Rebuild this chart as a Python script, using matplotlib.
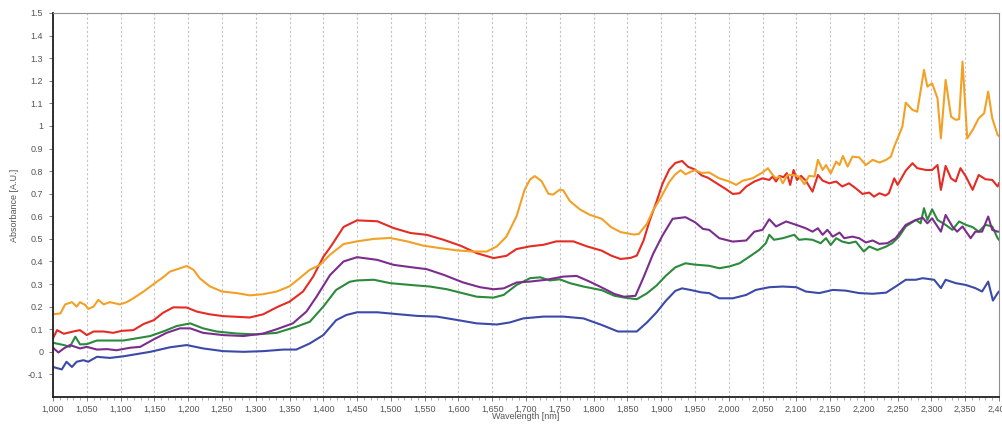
import matplotlib
matplotlib.use("Agg")
import matplotlib.pyplot as plt
from matplotlib.ticker import FixedLocator, MultipleLocator, FuncFormatter

# ---- spectra: wavelength [nm] and absorbance [A.U.] ----
wl_orange = [1000, 1011, 1018, 1028, 1035, 1040, 1048, 1052, 1060, 1067, 1075, 1084,
             1099, 1109, 1119, 1134, 1149, 1163, 1173, 1188, 1198, 1208, 1217, 1232,
             1250, 1272, 1291, 1311, 1331, 1350, 1365, 1380, 1395, 1410, 1430, 1450,
             1475, 1499, 1524, 1548, 1573, 1598, 1622, 1642, 1657, 1671, 1686, 1698,
             1706, 1713, 1723, 1733, 1740, 1750, 1755, 1765, 1780, 1794, 1812, 1826,
             1840, 1860, 1867, 1879, 1888, 1900, 1912, 1921, 1929, 1936, 1943, 1950,
             1960, 1971, 1986, 2001, 2011, 2021, 2035, 2050, 2058, 2065, 2070, 2075,
             2080, 2087, 2095, 2104, 2112, 2119, 2127, 2132, 2139, 2144, 2151, 2159,
             2164, 2169, 2176, 2183, 2193, 2203, 2213, 2223, 2233, 2240, 2245, 2250,
             2257, 2262, 2272, 2279, 2289, 2294, 2301, 2309, 2314, 2321, 2329, 2336,
             2341, 2346, 2353, 2361, 2370, 2378, 2384, 2390, 2398, 2400]
ab_orange = [0.166, 0.17, 0.21, 0.22, 0.20, 0.22, 0.207, 0.19, 0.20, 0.23, 0.21, 0.22,
             0.21, 0.22, 0.237, 0.267, 0.30, 0.33, 0.355, 0.37, 0.38, 0.363, 0.326, 0.29,
             0.267, 0.26, 0.25, 0.255, 0.267, 0.29, 0.326, 0.363, 0.385, 0.43, 0.477, 0.489,
             0.50, 0.504, 0.489, 0.47, 0.459, 0.449, 0.444, 0.444, 0.467, 0.51, 0.60, 0.718,
             0.763, 0.778, 0.756, 0.70, 0.696, 0.718, 0.715, 0.667, 0.63, 0.607, 0.589, 0.552,
             0.53, 0.519, 0.522, 0.567, 0.626, 0.685, 0.752, 0.786, 0.804, 0.786, 0.796, 0.804,
             0.792, 0.794, 0.768, 0.754, 0.739, 0.758, 0.768, 0.794, 0.813, 0.783, 0.768, 0.776,
             0.746, 0.783, 0.783, 0.776, 0.742, 0.779, 0.776, 0.85, 0.805, 0.827, 0.79, 0.842,
             0.827, 0.867, 0.82, 0.864, 0.861, 0.827, 0.85, 0.838, 0.85, 0.864, 0.909, 0.945,
             0.997, 1.103, 1.071, 1.063, 1.248, 1.174, 1.189, 1.122, 0.945, 1.204, 1.041, 1.027,
             1.03, 1.285, 0.945, 0.982, 1.034, 1.056, 1.152, 1.034, 0.96, 0.955]

wl_red = [1000, 1006, 1016, 1030, 1040, 1050, 1060, 1075, 1089, 1102, 1119, 1134,
          1149, 1163, 1178, 1198, 1213, 1232, 1252, 1272, 1291, 1311, 1331, 1350,
          1370, 1385, 1400, 1412, 1430, 1450, 1480, 1504, 1529, 1553, 1578, 1603,
          1627, 1652, 1671, 1686, 1706, 1726, 1745, 1770, 1790, 1812, 1826, 1840,
          1855, 1864, 1874, 1883, 1893, 1902, 1912, 1921, 1931, 1940, 1950, 1960,
          1969, 1996, 2006, 2016, 2026, 2038, 2050, 2060, 2065, 2070, 2075, 2081,
          2086, 2091, 2096, 2101, 2107, 2114, 2124, 2132, 2139, 2149, 2159, 2168,
          2178, 2188, 2198, 2208, 2215, 2223, 2232, 2237, 2245, 2250, 2257, 2262,
          2272, 2279, 2292, 2301, 2309, 2314, 2321, 2329, 2336, 2343, 2351, 2361,
          2370, 2380, 2390, 2398, 2400]
ab_red = [0.06, 0.096, 0.08, 0.09, 0.096, 0.074, 0.09, 0.09, 0.084, 0.093, 0.096, 0.123,
          0.14, 0.173, 0.197, 0.196, 0.178, 0.166, 0.158, 0.155, 0.152, 0.166, 0.197, 0.222,
          0.267, 0.333, 0.42, 0.47, 0.553, 0.582, 0.578, 0.548, 0.526, 0.518, 0.496, 0.47,
          0.437, 0.415, 0.425, 0.455, 0.467, 0.474, 0.489, 0.489, 0.467, 0.448, 0.426, 0.411,
          0.416, 0.426, 0.493, 0.581, 0.663, 0.744, 0.807, 0.836, 0.845, 0.819, 0.807, 0.781,
          0.771, 0.72, 0.699, 0.702, 0.732, 0.754, 0.768, 0.761, 0.776, 0.754, 0.779, 0.773,
          0.791, 0.739, 0.805, 0.761, 0.779, 0.758, 0.709, 0.783, 0.758, 0.746, 0.754, 0.732,
          0.746, 0.724, 0.699, 0.705, 0.687, 0.702, 0.692, 0.702, 0.768, 0.739, 0.776, 0.802,
          0.835, 0.813, 0.805, 0.805, 0.827, 0.717, 0.823, 0.768, 0.754, 0.813, 0.776, 0.717,
          0.783, 0.764, 0.761, 0.732, 0.746]

wl_purple = [1000, 1008, 1016, 1025, 1040, 1050, 1065, 1080, 1094, 1114, 1129, 1149,
             1168, 1188, 1203, 1222, 1252, 1282, 1311, 1331, 1355, 1375, 1390, 1410,
             1430, 1450, 1480, 1504, 1529, 1553, 1578, 1607, 1632, 1652, 1667, 1686,
             1706, 1730, 1755, 1775, 1794, 1812, 1831, 1845, 1862, 1874, 1888, 1902,
             1917, 1936, 1950, 1962, 1971, 1986, 2006, 2026, 2038, 2050, 2060, 2070,
             2085, 2100, 2114, 2124, 2132, 2139, 2146, 2154, 2164, 2171, 2183, 2193,
             2203, 2213, 2223, 2235, 2247, 2262, 2277, 2287, 2294, 2301, 2314, 2321,
             2331, 2338, 2346, 2358, 2365, 2375, 2384, 2390, 2398, 2400]
ab_purple = [0.018, -0.003, 0.015, 0.03, 0.015, 0.022, 0.01, 0.012, 0.007, 0.018, 0.022, 0.055,
             0.084, 0.104, 0.104, 0.084, 0.074, 0.07, 0.081, 0.10, 0.126, 0.178, 0.244, 0.34,
             0.40, 0.419, 0.407, 0.385, 0.375, 0.366, 0.341, 0.307, 0.286, 0.277, 0.281, 0.307,
             0.311, 0.319, 0.333, 0.336, 0.311, 0.285, 0.256, 0.244, 0.248, 0.33, 0.433, 0.515,
             0.589, 0.596, 0.574, 0.544, 0.54, 0.503, 0.488, 0.493, 0.532, 0.54, 0.587, 0.555,
             0.577, 0.562, 0.547, 0.532, 0.547, 0.518, 0.54, 0.51, 0.528, 0.503, 0.51, 0.503,
             0.484, 0.493, 0.478, 0.481, 0.503, 0.562, 0.584, 0.594, 0.569, 0.591, 0.532, 0.606,
             0.555, 0.532, 0.555, 0.503, 0.532, 0.532, 0.599, 0.54, 0.532, 0.532]

wl_green = [1000, 1016, 1025, 1033, 1040, 1050, 1065, 1084, 1104, 1124, 1144, 1163,
            1183, 1203, 1222, 1242, 1272, 1301, 1331, 1360, 1380, 1400, 1419, 1439,
            1450, 1475, 1499, 1529, 1558, 1583, 1607, 1627, 1652, 1667, 1686, 1706,
            1721, 1735, 1750, 1765, 1785, 1812, 1831, 1850, 1864, 1879, 1893, 1907,
            1921, 1936, 1950, 1971, 1986, 2001, 2016, 2031, 2045, 2055, 2060, 2067,
            2080, 2097, 2104, 2114, 2124, 2136, 2144, 2151, 2159, 2168, 2178, 2188,
            2200, 2208, 2220, 2233, 2242, 2252, 2262, 2277, 2284, 2289, 2294, 2301,
            2309, 2321, 2331, 2341, 2351, 2361, 2370, 2380, 2390, 2398, 2400]
ab_green = [0.04, 0.03, 0.022, 0.067, 0.033, 0.034, 0.05, 0.05, 0.05, 0.06, 0.07, 0.09,
            0.114, 0.126, 0.104, 0.09, 0.081, 0.077, 0.084, 0.111, 0.133, 0.20, 0.274, 0.31,
            0.316, 0.319, 0.304, 0.296, 0.289, 0.277, 0.259, 0.244, 0.24, 0.252, 0.296, 0.326,
            0.33, 0.316, 0.321, 0.304, 0.289, 0.273, 0.248, 0.238, 0.233, 0.259, 0.293, 0.337,
            0.374, 0.392, 0.386, 0.381, 0.37, 0.378, 0.392, 0.422, 0.451, 0.481, 0.518, 0.496,
            0.503, 0.518, 0.496, 0.499, 0.496, 0.481, 0.503, 0.473, 0.503, 0.488, 0.481, 0.488,
            0.444, 0.466, 0.451, 0.466, 0.481, 0.51, 0.555, 0.584, 0.569, 0.636, 0.584, 0.631,
            0.584, 0.562, 0.54, 0.577, 0.562, 0.552, 0.532, 0.562, 0.555, 0.503, 0.496]

wl_blue = [1000, 1013, 1020, 1028, 1035, 1045, 1052, 1065, 1084, 1104, 1124, 1144,
           1173, 1198, 1222, 1252, 1282, 1311, 1341, 1360, 1380, 1400, 1419, 1434,
           1450, 1480, 1509, 1539, 1568, 1598, 1627, 1657, 1676, 1696, 1726, 1755,
           1785, 1812, 1836, 1864, 1879, 1893, 1907, 1921, 1931, 1945, 1960, 1971,
           1986, 2006, 2026, 2040, 2060, 2080, 2100, 2114, 2134, 2154, 2173, 2193,
           2213, 2233, 2247, 2262, 2277, 2287, 2297, 2304, 2314, 2321, 2336, 2351,
           2365, 2375, 2384, 2391, 2398, 2400]
ab_blue = [-0.067, -0.078, -0.044, -0.067, -0.044, -0.037, -0.044, -0.022, -0.027, -0.02, -0.01, 0.0,
           0.02, 0.03, 0.015, 0.003, 0.0, 0.003, 0.01, 0.01, 0.037, 0.074, 0.14, 0.163,
           0.175, 0.175, 0.167, 0.159, 0.156, 0.141, 0.126, 0.121, 0.13, 0.148, 0.156, 0.156,
           0.148, 0.119, 0.09, 0.09, 0.13, 0.174, 0.226, 0.27, 0.281, 0.273, 0.263, 0.26,
           0.237, 0.237, 0.252, 0.274, 0.286, 0.289, 0.286, 0.267, 0.26, 0.274, 0.271, 0.26,
           0.257, 0.262, 0.289, 0.319, 0.319, 0.326, 0.322, 0.319, 0.282, 0.319, 0.304, 0.296,
           0.282, 0.267, 0.311, 0.227, 0.26, 0.267]

series = [
    (wl_blue, ab_blue, "#3b4aa8"),
    (wl_green, ab_green, "#2b8a3b"),
    (wl_purple, ab_purple, "#7b2d8e"),
    (wl_red, ab_red, "#e42c24"),
    (wl_orange, ab_orange, "#f2a126"),
]

# ---- axes styling ----
x_ticks = list(range(1000, 2401, 50))
y_ticks = [round(-0.1 + 0.1 * i, 1) for i in range(17)]
y_grid = [round(-0.1 + 0.2 * i, 1) for i in range(9)]

plt.rcParams["font.family"] = ["Liberation Sans", "DejaVu Sans"]

fig = plt.figure(figsize=(10.03, 4.24), dpi=100)
ax = fig.add_axes([53 / 1003, (424 - 397) / 424, (999 - 53) / 1003, (397 - 13) / 424])

for wl, ab, col in series:
    ax.plot(wl, ab, color=col, lw=1.5, solid_joinstyle="round")

ax.set_xlim(1000, 2400)
ax.set_ylim(-0.2, 1.5)

ax.xaxis.set_major_locator(FixedLocator(x_ticks))
ax.xaxis.set_minor_locator(MultipleLocator(10))
ax.xaxis.set_major_formatter(FuncFormatter(lambda v, p: f"{int(round(v)):,}"))
ax.yaxis.set_major_locator(FixedLocator(y_ticks))
ax.yaxis.set_major_formatter(FuncFormatter(lambda v, p: f"{v:g}"))
ax.yaxis.set_minor_locator(FixedLocator(y_grid))

ax.grid(which="major", axis="x", color="#c4c4c4", lw=0.8, ls=(0, (2, 2)))
ax.grid(which="minor", axis="y", color="#c4c4c4", lw=0.8, ls=(0, (2, 2)))
ax.set_axisbelow(True)

ax.tick_params(axis="both", which="major", labelsize=6.5, labelcolor="#555555",
               color="#666666", length=3, width=0.6, pad=4)
ax.tick_params(axis="x", which="major", pad=2.5)
ax.tick_params(axis="x", which="minor", length=2, width=0.5, color="#888888")
ax.tick_params(axis="y", which="minor", length=0)

for side in ("left", "bottom"):
    ax.spines[side].set_color("#202020")
    ax.spines[side].set_linewidth(1.3)
for side in ("top", "right"):
    ax.spines[side].set_color("#909090")
    ax.spines[side].set_linewidth(0.8)

ax.set_xlabel("Wavelength [nm]", fontsize=6.5, color="#555555", labelpad=-1)
ax.set_ylabel("Absorbance [A.U.]", fontsize=6.5, color="#555555", labelpad=6)

fig.savefig("out.png", dpi=100, facecolor="white")
